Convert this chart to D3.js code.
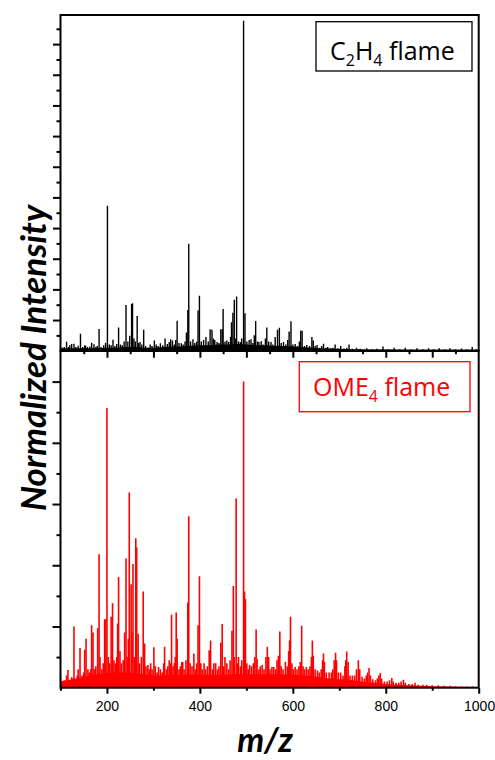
<!DOCTYPE html>
<html>
<head>
<meta charset="utf-8">
<script src="https://cdn.jsdelivr.net/npm/d3@7"></script>
<style>
body { margin: 0; background: #fff; }
</style>
</head>
<body>
<div id="chart"></div>
<script>
// C2H4 flame: peak positions (m/z) and heights (in left-axis major tick units)
var topMz = [104,108,113,117,120,124,129,133,138,143,148,152,154,158,163,167,172,176,179,183,187,193,197,201,205,209,213,217,221,225,229,233,237,241,245,249,253,255,258,261,265,268,271,275,279,283,288,293,297,302,306,310,315,320,325,330,334,337,341,345,348,351,355,360,364,368,371,374,376,380,385,389,393,396,399,403,408,413,418,422,426,429,432,437,441,445,448,450,454,458,462,466,468,471,474,476,479,483,487,490,494,497,501,506,510,514,517,520,524,527,532,536,541,544,548,553,557,562,567,571,575,580,585,589,592,596,600,605,610,614,617,620,625,630,636,641,644,648,652,658,662,666,671,675,681,686,691,697,703,710,716,721,728,737,745,759,770,781,794,805,818,830,842,855,867,880,892,903,915,927,938,950,963,975,986,995];
var topInt = [0.1,0.12,0.29,0.12,0.18,0.22,0.23,0.12,0.16,0.55,0.12,0.18,0.16,0.12,0.14,0.26,0.21,0.12,0.15,0.71,0.12,0.18,0.26,4.73,0.2,0.18,0.36,0.15,0.22,0.76,0.2,0.18,0.3,1.49,0.3,0.49,1.52,1.55,0.4,0.3,1.13,0.25,0.28,0.2,0.68,0.15,0.1,0.2,0.15,0.33,0.2,0.15,0.24,0.18,0.4,0.22,0.28,0.37,0.33,0.2,0.35,0.98,0.25,0.24,0.2,0.3,0.59,1.33,3.49,0.3,0.37,0.25,0.3,1.31,1.79,0.3,0.35,0.45,0.3,0.7,0.68,0.4,0.35,0.28,0.25,0.7,0.7,1.36,0.3,0.33,0.28,0.45,0.93,1.24,1.66,0.4,1.77,0.3,0.28,0.4,10.76,1.22,0.3,0.35,0.37,0.25,0.5,0.97,0.3,0.28,0.31,0.2,0.4,0.76,0.3,0.28,0.2,0.45,0.68,0.75,0.25,0.28,0.2,0.35,0.63,0.96,0.2,0.22,0.15,0.3,0.65,0.65,0.15,0.19,0.15,0.45,0.33,0.15,0.19,0.1,0.15,0.23,0.1,0.12,0.08,0.1,0.2,0.08,0.15,0.07,0.1,0.2,0.06,0.1,0.06,0.08,0.05,0.06,0.14,0.05,0.1,0.05,0.1,0.05,0.08,0.05,0.08,0.05,0.08,0.05,0.08,0.05,0.07,0.05,0.12,0.05];
// C2H4 flame: low-level background under the peaks
var topEnvMz = [100,120,140,160,180,200,220,240,260,280,300,320,340,360,380,400,420,440,460,480,500,520,540,560,580,600,620,640,660,680,700,720,740,760,780,800,850,900,950,1000];
var topEnvInt = [0.08,0.08,0.08,0.08,0.09,0.1,0.1,0.12,0.12,0.1,0.1,0.12,0.14,0.14,0.16,0.18,0.18,0.2,0.2,0.22,0.2,0.18,0.18,0.16,0.15,0.14,0.12,0.1,0.08,0.07,0.06,0.05,0.05,0.04,0.04,0.04,0.03,0.03,0.03,0.03];

// OME4 flame: peak positions (m/z) and heights (in left-axis major tick units)
var botMz = [100,104,108,113,116,120,124,127,129,133,136,138,142,146,150,152,155,159,162,165,167,170,173,176,180,183,185,189,192,195,197,200,203,206,209,212,215,218,221,223,225,228,231,235,238,241,244,246,248,252,254,256,259,262,264,267,270,274,278,281,284,288,291,294,297,301,304,308,311,315,319,322,324,328,331,334,336,339,342,345,347,349,351,355,358,361,363,366,370,374,376,379,383,387,390,393,396,399,402,405,409,412,416,420,423,427,430,434,438,441,445,448,451,454,458,462,465,469,472,474,478,481,483,487,490,494,496,498,501,504,507,511,515,518,521,523,527,530,534,538,542,545,548,551,555,559,563,566,569,572,575,579,584,588,591,593,595,598,601,605,609,613,616,619,622,625,629,633,637,640,642,644,648,653,657,661,664,666,668,672,678,683,686,689,692,694,698,703,708,712,714,716,719,723,728,733,737,741,744,749,754,758,761,764,767,772,778,782,785,788,791,797,803,808,813,816,822,828,833,838,842,850,857,863,870,880,888,900,913,925,938,950,963,975,988];
var botInt = [0.15,0.1,0.12,0.2,0.29,0.12,0.17,0.15,1.0,0.15,0.2,0.3,0.65,0.2,0.25,0.62,0.8,0.3,0.25,0.3,1.02,0.9,0.3,0.35,0.97,2.18,0.5,0.3,0.4,1.12,1.12,4.57,0.5,0.4,1.16,1.38,0.45,0.4,0.5,1.05,1.81,0.6,0.4,0.45,0.9,2.11,0.5,0.8,3.19,1.69,0.9,2.02,0.5,2.44,2.29,0.88,0.4,0.5,1.57,0.72,0.35,0.37,0.3,0.4,0.3,0.66,0.35,0.25,0.34,0.3,0.25,0.4,0.67,0.3,0.35,0.45,0.4,1.19,0.35,0.4,0.5,1.23,0.8,0.3,0.35,0.42,0.42,0.3,0.45,1.39,2.8,0.4,0.35,0.56,0.3,0.4,1.02,1.82,0.4,0.3,0.4,0.3,0.35,0.61,0.77,0.3,0.4,0.4,0.3,0.35,0.74,1.04,0.35,0.5,0.4,0.3,0.45,0.93,1.66,0.5,3.09,0.4,0.5,0.35,0.45,5.0,1.57,1.45,0.4,0.3,0.37,0.35,0.4,0.5,0.95,0.47,0.3,0.35,0.37,0.3,0.5,0.67,0.5,0.3,0.34,0.34,0.3,0.45,0.52,0.92,0.35,0.3,0.42,0.35,0.6,0.77,1.16,0.4,0.3,0.34,0.3,0.35,0.42,1.01,0.35,0.3,0.34,0.3,0.35,0.5,0.77,0.52,0.3,0.28,0.25,0.3,0.45,0.56,0.42,0.25,0.25,0.25,0.3,0.45,0.57,0.45,0.25,0.25,0.2,0.35,0.45,0.59,0.42,0.2,0.2,0.2,0.3,0.45,0.3,0.18,0.15,0.2,0.25,0.32,0.2,0.14,0.12,0.15,0.2,0.24,0.15,0.1,0.1,0.12,0.16,0.1,0.08,0.08,0.1,0.13,0.08,0.06,0.06,0.08,0.05,0.05,0.05,0.04,0.04,0.03,0.03,0.02,0.02,0.02,0.02];
// OME4 flame: low-level background under the peaks
var botEnvMz = [100,120,140,160,180,200,220,240,260,280,300,320,340,360,380,400,420,440,460,480,500,520,540,560,580,600,620,640,660,680,700,720,740,760,780,800,850,900,950,1000];
var botEnvInt = [0.1,0.13,0.16,0.19,0.22,0.24,0.25,0.25,0.24,0.22,0.2,0.2,0.21,0.21,0.21,0.21,0.21,0.21,0.21,0.22,0.22,0.22,0.22,0.22,0.22,0.21,0.2,0.19,0.17,0.15,0.14,0.13,0.11,0.09,0.08,0.06,0.04,0.025,0.015,0.01];

var xLabels = [200, 400, 600, 800, 1000];

var width = 495, height = 760;
var left = 60.5, right = 478.7;

var x = d3.scaleLinear().domain([100, 1000]).range([left, right]);
var yTop = d3.scaleLinear().domain([0, 10.95]).range([350.7, 15]);
var yBot = d3.scaleLinear().domain([0, 5.5]).range([687.7, 351]);

var svg = d3.select('#chart').append('svg')
    .attr('width', width)
    .attr('height', height);
svg.append('rect').attr('width', width).attr('height', height).attr('fill', '#fff');

function zip(a, b) {
    return a.map(function(v, i) { return { mz: v, v: b[i] }; });
}

function drawPanel(peaks, env, y, col, id, sw) {
    svg.append('clipPath').attr('id', id)
        .append('rect')
        .attr('x', left).attr('y', y.range()[1])
        .attr('width', right - left).attr('height', y.range()[0] - y.range()[1]);
    var g = svg.append('g').attr('clip-path', 'url(#' + id + ')');

    var area = d3.area()
        .x(function(d) { return x(d.mz); })
        .y0(y(0))
        .y1(function(d) { return y(d.v); });
    g.append('path').datum(env).attr('d', area).attr('fill', col);

    g.selectAll('line.peak').data(peaks).join('line')
        .attr('class', 'peak')
        .attr('x1', function(d) { return x(d.mz); })
        .attr('x2', function(d) { return x(d.mz); })
        .attr('y1', y(0))
        .attr('y2', function(d) { return y(d.v); })
        .attr('stroke', col)
        .attr('stroke-width', sw);
}

drawPanel(zip(topMz, topInt), zip(topEnvMz, topEnvInt), yTop, '#000', 'clipTop', 1.4);
drawPanel(zip(botMz, botInt), zip(botEnvMz, botEnvInt), yBot, '#ff0000', 'clipBot', 1.6);

function styleAxis(g) {
    g.select('.domain').remove();
    g.selectAll('.tick line').attr('stroke', '#000').attr('stroke-width', 2);
}

// left axes, major + minor ticks, no labels
svg.append('g').attr('transform', 'translate(' + left + ',0)')
    .call(d3.axisLeft(yTop).tickValues(d3.range(1, 11)).tickSize(7.5).tickFormat(''))
    .call(styleAxis);
svg.append('g').attr('transform', 'translate(' + left + ',0)')
    .call(d3.axisLeft(yTop).tickValues(d3.range(0.5, 11, 1)).tickSize(4).tickFormat(''))
    .call(styleAxis);
svg.append('g').attr('transform', 'translate(' + left + ',0)')
    .call(d3.axisLeft(yBot).tickValues(d3.range(1, 6)).tickSize(8).tickFormat(''))
    .call(styleAxis);
svg.append('g').attr('transform', 'translate(' + left + ',0)')
    .call(d3.axisLeft(yBot).tickValues(d3.range(0.5, 5.5, 1)).tickSize(4).tickFormat(''))
    .call(styleAxis);

// x ticks under the top panel
svg.append('g').attr('transform', 'translate(0,' + yTop(0) + ')')
    .call(d3.axisBottom(x).tickValues(d3.range(200, 1000, 100)).tickSize(7).tickFormat(''))
    .call(styleAxis);
svg.append('g').attr('transform', 'translate(0,' + yTop(0) + ')')
    .call(d3.axisBottom(x).tickValues(d3.range(150, 1000, 100)).tickSize(3.5).tickFormat(''))
    .call(styleAxis);

// bottom x axis with labels
var xAxis = svg.append('g').attr('transform', 'translate(0,' + yBot(0) + ')')
    .call(d3.axisBottom(x).tickValues(xLabels).tickSize(6).tickPadding(7).tickFormat(d3.format('d')))
    .call(styleAxis);
xAxis.selectAll('text')
    .attr('fill', '#000')
    .style('font-family', '"Liberation Sans", Arial, sans-serif')
    .style('font-size', '14px');
// keep "1000" inside the window, right-aligned like the reference
xAxis.selectAll('.tick').filter(function(d) { return d === 1000; }).select('text')
    .attr('text-anchor', 'end').attr('x', 16);
svg.append('g').attr('transform', 'translate(0,' + yBot(0) + ')')
    .call(d3.axisBottom(x).tickValues(d3.range(100, 1000, 200)).tickSize(3).tickFormat(''))
    .call(styleAxis);

// frames
[yTop, yBot].forEach(function(y) {
    svg.append('rect')
        .attr('x', left).attr('y', y.range()[1])
        .attr('width', right - left).attr('height', y.range()[0] - y.range()[1])
        .attr('fill', 'none').attr('stroke', '#000').attr('stroke-width', 2);
});

// legends
function legend(bx, by, bw, bh, col, tx, ty, parts) {
    svg.append('rect').attr('x', bx).attr('y', by).attr('width', bw).attr('height', bh)
        .attr('fill', '#fff').attr('stroke', col).attr('stroke-width', 1.3);
    var t = svg.append('text').attr('x', tx).attr('y', ty)
        .attr('fill', col)
        .style('font-family', '"Open Sans", sans-serif')
        .style('font-size', '25px');
    parts.forEach(function(p) {
        if (p.sub) {
            t.append('tspan').attr('dy', 6).style('font-size', '16px').text(p.text);
        } else {
            t.append('tspan').attr('dy', p.after ? -6 : 0).text(p.text);
        }
    });
}
legend(316, 21.7, 156, 49.3, '#000', 330, 59.5, [
    { text: 'C' }, { text: '2', sub: true }, { text: 'H', after: true },
    { text: '4', sub: true }, { text: ' flame', after: true }
]);
legend(299.3, 361.7, 170.7, 50, '#ff0000', 313, 395.5, [
    { text: 'OME' }, { text: '4', sub: true }, { text: ' flame', after: true }
]);

// axis titles
svg.append('text')
    .attr('transform', 'translate(46,358) rotate(-90)')
    .attr('text-anchor', 'middle')
    .style('font-family', 'Lato, sans-serif')
    .style('font-weight', 'bold')
    .style('font-style', 'italic')
    .style('font-size', '35px')
    .text('Normalized Intensity');
svg.append('text')
    .attr('x', 265).attr('y', 752)
    .attr('text-anchor', 'middle')
    .style('font-family', 'Lato, sans-serif')
    .style('font-weight', 'bold')
    .style('font-style', 'italic')
    .style('font-size', '34px')
    .text('m/z');
</script>
</body>
</html>
